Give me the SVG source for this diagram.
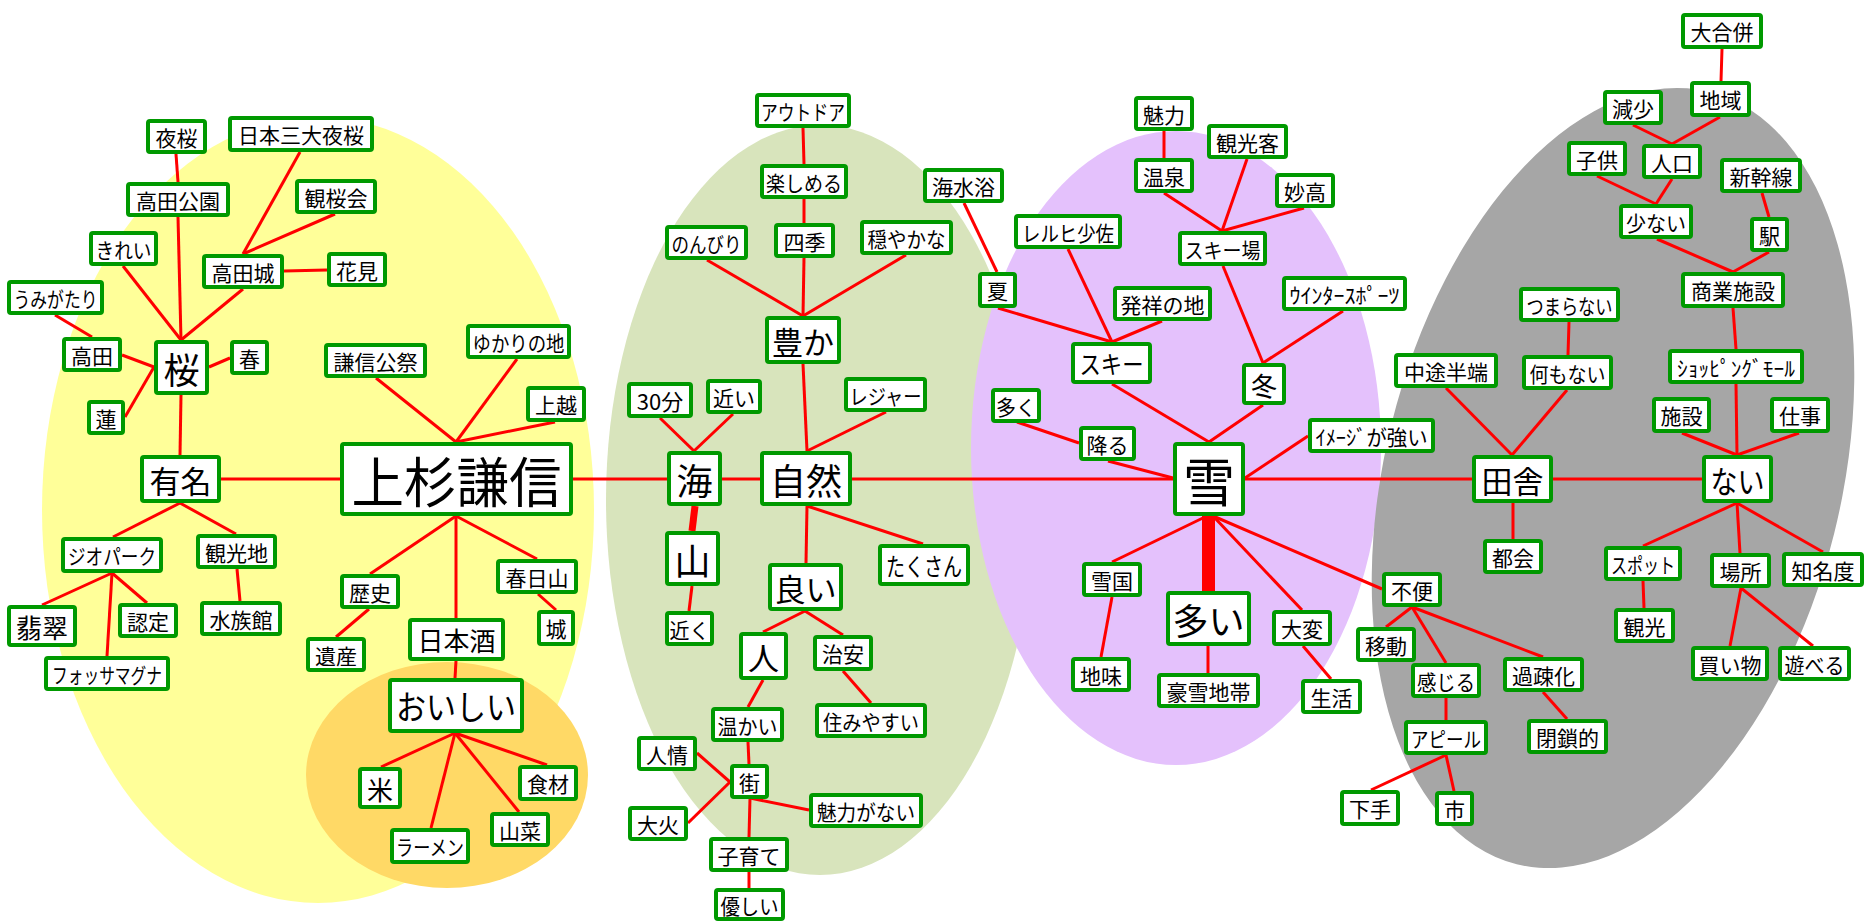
<svg xmlns="http://www.w3.org/2000/svg" width="1874" height="923" viewBox="0 0 1874 923">
<style>
.n rect{fill:#fff;stroke:#009900;stroke-width:4}
.n text{font-family:"Noto Sans CJK JP","Noto Sans",sans-serif;fill:#000;text-anchor:middle;dominant-baseline:central;font-size:21px}
.c line{stroke:#ff0000;stroke-width:3}
.b36{font-size:36px!important}.b31{font-size:31px!important}.b26{font-size:26px!important}
</style>
<rect width="1874" height="923" fill="#fff"/>
<g id="areas">
<ellipse cx="318" cy="510" rx="276" ry="393" fill="#FFFF99"/>
<ellipse cx="447" cy="775" rx="141" ry="113" fill="#FFD966"/>
<ellipse cx="820" cy="500" rx="214" ry="375" fill="#D8E4BC"/>
<ellipse cx="1176" cy="448" rx="205" ry="317" fill="#E4C1FC"/>
<ellipse cx="1613" cy="478" rx="228" ry="398" fill="#A6A6A6" transform="rotate(14 1613 478)"/>
</g>
<g id="connectors" class="c">
<line x1="176" y1="154" x2="178" y2="182"/>
<line x1="300" y1="152" x2="243" y2="254"/>
<line x1="335" y1="214" x2="243" y2="254"/>
<line x1="284" y1="271" x2="327" y2="270"/>
<line x1="178" y1="217" x2="181" y2="340"/>
<line x1="123" y1="266" x2="181" y2="340"/>
<line x1="243" y1="289" x2="181" y2="340"/>
<line x1="55" y1="315" x2="92" y2="337"/>
<line x1="122" y1="355" x2="154" y2="367"/>
<line x1="125" y1="417" x2="154" y2="367"/>
<line x1="209" y1="367" x2="230" y2="358"/>
<line x1="181" y1="395" x2="180" y2="455"/>
<line x1="221" y1="479" x2="340" y2="479"/>
<line x1="376" y1="378" x2="456" y2="442"/>
<line x1="517" y1="359" x2="456" y2="442"/>
<line x1="555" y1="422" x2="456" y2="442"/>
<line x1="180" y1="503" x2="113" y2="537"/>
<line x1="180" y1="503" x2="236" y2="534"/>
<line x1="112" y1="573" x2="42" y2="605"/>
<line x1="112" y1="573" x2="147" y2="603"/>
<line x1="112" y1="573" x2="107" y2="656"/>
<line x1="237" y1="569" x2="240" y2="601"/>
<line x1="456" y1="516" x2="370" y2="574"/>
<line x1="456" y1="516" x2="456" y2="618"/>
<line x1="456" y1="516" x2="537" y2="559"/>
<line x1="369" y1="609" x2="336" y2="637"/>
<line x1="538" y1="594" x2="556" y2="610"/>
<line x1="456" y1="661" x2="455" y2="678"/>
<line x1="455" y1="733" x2="381" y2="767"/>
<line x1="455" y1="733" x2="431" y2="828"/>
<line x1="455" y1="733" x2="519" y2="812"/>
<line x1="455" y1="733" x2="547" y2="765"/>
<line x1="573" y1="479" x2="667" y2="479"/>
<line x1="722" y1="479" x2="760" y2="479"/>
<line x1="660" y1="418" x2="694" y2="451"/>
<line x1="733" y1="414" x2="694" y2="451"/>
<line x1="695" y1="506" x2="692" y2="531" style="stroke-width:7"/>
<line x1="692" y1="586" x2="689" y2="611"/>
<line x1="807" y1="451" x2="803" y2="364"/>
<line x1="886" y1="412" x2="807" y2="451"/>
<line x1="803" y1="316" x2="707" y2="260"/>
<line x1="803" y1="316" x2="804" y2="258"/>
<line x1="803" y1="316" x2="906" y2="255"/>
<line x1="804" y1="223" x2="804" y2="199"/>
<line x1="804" y1="164" x2="803" y2="128"/>
<line x1="964" y1="203" x2="997" y2="272"/>
<line x1="998" y1="308" x2="1112" y2="342"/>
<line x1="852" y1="479" x2="1173" y2="479"/>
<line x1="807" y1="506" x2="806" y2="563"/>
<line x1="807" y1="506" x2="923" y2="544"/>
<line x1="805" y1="611" x2="763" y2="632"/>
<line x1="805" y1="611" x2="843" y2="635"/>
<line x1="763" y1="680" x2="748" y2="707"/>
<line x1="843" y1="671" x2="871" y2="703"/>
<line x1="748" y1="742" x2="749" y2="764"/>
<line x1="697" y1="753" x2="730" y2="782"/>
<line x1="688" y1="823" x2="730" y2="782"/>
<line x1="750" y1="798" x2="809" y2="810"/>
<line x1="750" y1="798" x2="749" y2="837"/>
<line x1="749" y1="872" x2="749" y2="888"/>
<line x1="1164" y1="131" x2="1164" y2="158"/>
<line x1="1164" y1="193" x2="1222" y2="231"/>
<line x1="1247" y1="159" x2="1222" y2="231"/>
<line x1="1304" y1="208" x2="1222" y2="231"/>
<line x1="1068" y1="249" x2="1112" y2="342"/>
<line x1="1162" y1="321" x2="1112" y2="342"/>
<line x1="1223" y1="266" x2="1263" y2="363"/>
<line x1="1343" y1="311" x2="1263" y2="363"/>
<line x1="1112" y1="384" x2="1209" y2="442"/>
<line x1="1263" y1="405" x2="1209" y2="442"/>
<line x1="1017" y1="422" x2="1079" y2="443"/>
<line x1="1108" y1="461" x2="1173" y2="478"/>
<line x1="1308" y1="436" x2="1245" y2="478"/>
<line x1="1245" y1="479" x2="1472" y2="479"/>
<line x1="1207" y1="516" x2="1112" y2="562"/>
<line x1="1208.5" y1="516" x2="1208.5" y2="591" style="stroke-width:13"/>
<line x1="1213" y1="516" x2="1302" y2="610"/>
<line x1="1213" y1="516" x2="1382" y2="589"/>
<line x1="1112" y1="597" x2="1101" y2="657"/>
<line x1="1208" y1="646" x2="1208" y2="673"/>
<line x1="1303" y1="646" x2="1331" y2="679"/>
<line x1="1722" y1="49" x2="1721" y2="81"/>
<line x1="1720" y1="117" x2="1672" y2="144"/>
<line x1="1633" y1="125" x2="1672" y2="144"/>
<line x1="1672" y1="179" x2="1656" y2="204"/>
<line x1="1597" y1="176" x2="1656" y2="204"/>
<line x1="1762" y1="193" x2="1769" y2="217"/>
<line x1="1657" y1="239" x2="1733" y2="272"/>
<line x1="1769" y1="252" x2="1733" y2="272"/>
<line x1="1733" y1="308" x2="1736" y2="349"/>
<line x1="1736" y1="384" x2="1737" y2="455"/>
<line x1="1682" y1="433" x2="1737" y2="455"/>
<line x1="1799" y1="433" x2="1737" y2="455"/>
<line x1="1569" y1="322" x2="1568" y2="355"/>
<line x1="1446" y1="388" x2="1512" y2="455"/>
<line x1="1567" y1="390" x2="1512" y2="455"/>
<line x1="1553" y1="479" x2="1702" y2="479"/>
<line x1="1513" y1="503" x2="1513" y2="539"/>
<line x1="1737" y1="503" x2="1643" y2="546"/>
<line x1="1737" y1="503" x2="1740" y2="553"/>
<line x1="1737" y1="503" x2="1823" y2="552"/>
<line x1="1643" y1="581" x2="1644" y2="608"/>
<line x1="1741" y1="588" x2="1730" y2="646"/>
<line x1="1741" y1="588" x2="1813" y2="646"/>
<line x1="1412" y1="607" x2="1386" y2="627"/>
<line x1="1412" y1="607" x2="1446" y2="663"/>
<line x1="1412" y1="607" x2="1543" y2="657"/>
<line x1="1446" y1="698" x2="1446" y2="720"/>
<line x1="1543" y1="692" x2="1567" y2="719"/>
<line x1="1446" y1="755" x2="1371" y2="790"/>
<line x1="1446" y1="755" x2="1454" y2="791"/>
</g>
<g id="n1" class="n"><rect x="148" y="121" width="57" height="31" rx="2"/><text x="176.5" y="136.5">夜桜</text></g>
<g id="n2" class="n"><rect x="230" y="118" width="142" height="32" rx="2"/><text x="301" y="134">日本三大夜桜</text></g>
<g id="n3" class="n"><rect x="128" y="184" width="100" height="31" rx="2"/><text x="178" y="199.5">高田公園</text></g>
<g id="n4" class="n"><rect x="297" y="181" width="78" height="31" rx="2"/><text x="336" y="196.5">観桜会</text></g>
<g id="n5" class="n"><rect x="91" y="233" width="65" height="31" rx="2"/><text x="123.5" y="248.5" textLength="56" lengthAdjust="spacingAndGlyphs">きれい</text></g>
<g id="n6" class="n"><rect x="204" y="256" width="78" height="31" rx="2"/><text x="243" y="271.5">高田城</text></g>
<g id="n7" class="n"><rect x="329" y="254" width="56" height="31" rx="2"/><text x="357" y="269.5">花見</text></g>
<g id="n8" class="n"><rect x="9" y="282" width="93" height="31" rx="2"/><text x="55.5" y="297.5" textLength="84" lengthAdjust="spacingAndGlyphs">うみがたり</text></g>
<g id="n9" class="n"><rect x="64" y="339" width="56" height="31" rx="2"/><text x="92" y="354.5">高田</text></g>
<g id="n10" class="n"><rect x="156" y="342" width="51" height="51" rx="2"/><text x="181.5" y="367.5" class="b36">桜</text></g>
<g id="n11" class="n"><rect x="232" y="342" width="35" height="31" rx="2"/><text x="249.5" y="357.5">春</text></g>
<g id="n12" class="n"><rect x="89" y="402" width="34" height="31" rx="2"/><text x="106" y="417.5">蓮</text></g>
<g id="n13" class="n"><rect x="326" y="345" width="99" height="31" rx="2"/><text x="375.5" y="360.5">謙信公祭</text></g>
<g id="n14" class="n"><rect x="468" y="326" width="101" height="31" rx="2"/><text x="518.5" y="341.5" textLength="92" lengthAdjust="spacingAndGlyphs">ゆかりの地</text></g>
<g id="n15" class="n"><rect x="528" y="388" width="56" height="32" rx="2"/><text x="556" y="404">上越</text></g>
<g id="n16" class="n"><rect x="142" y="457" width="77" height="44" rx="2"/><text x="180.5" y="479" class="b31">有名</text></g>
<g id="n17" class="n"><rect x="342" y="444" width="229" height="70" rx="2"/><text x="456.5" y="479" style="font-size:54px" textLength="210" lengthAdjust="spacingAndGlyphs">上杉謙信</text></g>
<g id="n18" class="n"><rect x="63" y="539" width="98" height="32" rx="2"/><text x="112" y="555" textLength="88" lengthAdjust="spacingAndGlyphs">ジオパーク</text></g>
<g id="n19" class="n"><rect x="198" y="536" width="77" height="31" rx="2"/><text x="236.5" y="551.5">観光地</text></g>
<g id="n20" class="n"><rect x="9" y="607" width="66" height="38" rx="2"/><text x="42" y="626" class="b26">翡翠</text></g>
<g id="n21" class="n"><rect x="120" y="605" width="56" height="31" rx="2"/><text x="148" y="620.5">認定</text></g>
<g id="n22" class="n"><rect x="202" y="603" width="78" height="31" rx="2"/><text x="241" y="618.5">水族館</text></g>
<g id="n23" class="n"><rect x="46" y="658" width="122" height="31" rx="2"/><text x="107" y="673.5" textLength="110" lengthAdjust="spacingAndGlyphs">フォッサマグナ</text></g>
<g id="n24" class="n"><rect x="342" y="576" width="56" height="31" rx="2"/><text x="370" y="591.5">歴史</text></g>
<g id="n25" class="n"><rect x="498" y="561" width="78" height="31" rx="2"/><text x="537" y="576.5">春日山</text></g>
<g id="n26" class="n"><rect x="539" y="612" width="34" height="32" rx="2"/><text x="556" y="628">城</text></g>
<g id="n27" class="n"><rect x="308" y="639" width="56" height="31" rx="2"/><text x="336" y="654.5">遺産</text></g>
<g id="n28" class="n"><rect x="410" y="620" width="93" height="39" rx="2"/><text x="456.5" y="639.5" class="b26">日本酒</text></g>
<g id="n29" class="n"><rect x="390" y="680" width="132" height="51" rx="2"/><text x="456" y="705.5" style="font-size:34px" textLength="120" lengthAdjust="spacingAndGlyphs">おいしい</text></g>
<g id="n30" class="n"><rect x="360" y="769" width="40" height="38" rx="2"/><text x="380" y="788" class="b26">米</text></g>
<g id="n31" class="n"><rect x="520" y="767" width="56" height="32" rx="2"/><text x="548" y="783">食材</text></g>
<g id="n32" class="n"><rect x="492" y="814" width="56" height="31" rx="2"/><text x="520" y="829.5">山菜</text></g>
<g id="n33" class="n"><rect x="392" y="830" width="76" height="32" rx="2"/><text x="430" y="846" textLength="68" lengthAdjust="spacingAndGlyphs">ラーメン</text></g>
<g id="n34" class="n"><rect x="757" y="95" width="92" height="31" rx="2"/><text x="803" y="110.5" textLength="84" lengthAdjust="spacingAndGlyphs">アウトドア</text></g>
<g id="n35" class="n"><rect x="762" y="166" width="84" height="31" rx="2"/><text x="804" y="181.5" textLength="76" lengthAdjust="spacingAndGlyphs">楽しめる</text></g>
<g id="n36" class="n"><rect x="925" y="170" width="77" height="31" rx="2"/><text x="963.5" y="185.5">海水浴</text></g>
<g id="n37" class="n"><rect x="667" y="227" width="79" height="31" rx="2"/><text x="706.5" y="242.5" textLength="70" lengthAdjust="spacingAndGlyphs">のんびり</text></g>
<g id="n38" class="n"><rect x="776" y="225" width="57" height="31" rx="2"/><text x="804.5" y="240.5">四季</text></g>
<g id="n39" class="n"><rect x="862" y="222" width="89" height="31" rx="2"/><text x="906.5" y="237.5" textLength="78" lengthAdjust="spacingAndGlyphs">穏やかな</text></g>
<g id="n40" class="n"><rect x="980" y="274" width="35" height="32" rx="2"/><text x="997.5" y="290">夏</text></g>
<g id="n41" class="n"><rect x="767" y="318" width="72" height="44" rx="2"/><text x="803" y="340" class="b31">豊か</text></g>
<g id="n42" class="n"><rect x="629" y="384" width="62" height="32" rx="2"/><text x="660" y="400" style="font-size:22px">30分</text></g>
<g id="n43" class="n"><rect x="708" y="381" width="52" height="31" rx="2"/><text x="734" y="396.5">近い</text></g>
<g id="n44" class="n"><rect x="846" y="379" width="79" height="31" rx="2"/><text x="885.5" y="394.5" textLength="72" lengthAdjust="spacingAndGlyphs">レジャー</text></g>
<g id="n45" class="n"><rect x="669" y="453" width="51" height="51" rx="2"/><text x="694.5" y="478.5" class="b36">海</text></g>
<g id="n46" class="n"><rect x="762" y="453" width="88" height="51" rx="2"/><text x="806" y="478.5" class="b36">自然</text></g>
<g id="n47" class="n"><rect x="667" y="533" width="51" height="51" rx="2"/><text x="692.5" y="558.5" class="b36">山</text></g>
<g id="n48" class="n"><rect x="770" y="565" width="71" height="44" rx="2"/><text x="805.5" y="587" class="b31">良い</text></g>
<g id="n49" class="n"><rect x="880" y="546" width="88" height="38" rx="2"/><text x="924" y="565" style="font-size:25px" textLength="76" lengthAdjust="spacingAndGlyphs">たくさん</text></g>
<g id="n50" class="n"><rect x="667" y="613" width="45" height="31" rx="2"/><text x="689.5" y="628.5" textLength="40" lengthAdjust="spacingAndGlyphs">近く</text></g>
<g id="n51" class="n"><rect x="741" y="634" width="45" height="44" rx="2"/><text x="763.5" y="656" class="b31">人</text></g>
<g id="n52" class="n"><rect x="815" y="637" width="56" height="32" rx="2"/><text x="843" y="653">治安</text></g>
<g id="n53" class="n"><rect x="713" y="709" width="69" height="31" rx="2"/><text x="747.5" y="724.5" textLength="60" lengthAdjust="spacingAndGlyphs">温かい</text></g>
<g id="n54" class="n"><rect x="817" y="705" width="108" height="31" rx="2"/><text x="871" y="720.5" textLength="96" lengthAdjust="spacingAndGlyphs">住みやすい</text></g>
<g id="n55" class="n"><rect x="639" y="738" width="56" height="31" rx="2"/><text x="667" y="753.5">人情</text></g>
<g id="n56" class="n"><rect x="732" y="766" width="35" height="31" rx="2"/><text x="749.5" y="781.5">街</text></g>
<g id="n57" class="n"><rect x="811" y="795" width="110" height="31" rx="2"/><text x="866" y="810.5" textLength="98" lengthAdjust="spacingAndGlyphs">魅力がない</text></g>
<g id="n58" class="n"><rect x="630" y="808" width="56" height="31" rx="2"/><text x="658" y="823.5">大火</text></g>
<g id="n59" class="n"><rect x="711" y="839" width="76" height="31" rx="2"/><text x="749" y="854.5">子育て</text></g>
<g id="n60" class="n"><rect x="716" y="890" width="67" height="29" rx="2"/><text x="749.5" y="904.5" textLength="58" lengthAdjust="spacingAndGlyphs">優しい</text></g>
<g id="n61" class="n"><rect x="1136" y="98" width="56" height="31" rx="2"/><text x="1164" y="113.5">魅力</text></g>
<g id="n62" class="n"><rect x="1209" y="126" width="77" height="31" rx="2"/><text x="1247.5" y="141.5">観光客</text></g>
<g id="n63" class="n"><rect x="1136" y="160" width="56" height="31" rx="2"/><text x="1164" y="175.5">温泉</text></g>
<g id="n64" class="n"><rect x="1277" y="175" width="56" height="31" rx="2"/><text x="1305" y="190.5">妙高</text></g>
<g id="n65" class="n"><rect x="1016" y="216" width="104" height="31" rx="2"/><text x="1068" y="231.5" textLength="92" lengthAdjust="spacingAndGlyphs">レルヒ少佐</text></g>
<g id="n66" class="n"><rect x="1180" y="233" width="85" height="31" rx="2"/><text x="1222.5" y="248.5" textLength="76" lengthAdjust="spacingAndGlyphs">スキー場</text></g>
<g id="n67" class="n"><rect x="1115" y="288" width="95" height="31" rx="2"/><text x="1162.5" y="303.5">発祥の地</text></g>
<g id="n68" class="n"><rect x="1284" y="278" width="121" height="31" rx="2"/><text x="1344.5" y="293.5" textLength="110" lengthAdjust="spacingAndGlyphs">ｳｲﾝﾀｰｽﾎﾟｰﾂ</text></g>
<g id="n69" class="n"><rect x="1073" y="344" width="77" height="38" rx="2"/><text x="1111.5" y="363" style="font-size:25px" textLength="64" lengthAdjust="spacingAndGlyphs">スキー</text></g>
<g id="n70" class="n"><rect x="1244" y="365" width="40" height="38" rx="2"/><text x="1264" y="384" class="b26">冬</text></g>
<g id="n71" class="n"><rect x="993" y="390" width="46" height="31" rx="2"/><text x="1016" y="405.5" textLength="40" lengthAdjust="spacingAndGlyphs">多く</text></g>
<g id="n72" class="n"><rect x="1081" y="428" width="53" height="31" rx="2"/><text x="1107.5" y="443.5">降る</text></g>
<g id="n73" class="n"><rect x="1310" y="420" width="123" height="31" rx="2"/><text x="1371.5" y="435.5" textLength="112" lengthAdjust="spacingAndGlyphs">ｲﾒｰｼﾞが強い</text></g>
<g id="n74" class="n"><rect x="1175" y="444" width="68" height="70" rx="2"/><text x="1209" y="479" style="font-size:52px">雪</text></g>
<g id="n75" class="n"><rect x="1084" y="564" width="56" height="31" rx="2"/><text x="1112" y="579.5">雪国</text></g>
<g id="n76" class="n"><rect x="1168" y="593" width="81" height="51" rx="2"/><text x="1208.5" y="618.5" class="b36">多い</text></g>
<g id="n77" class="n"><rect x="1274" y="612" width="56" height="32" rx="2"/><text x="1302" y="628">大変</text></g>
<g id="n78" class="n"><rect x="1073" y="659" width="56" height="31" rx="2"/><text x="1101" y="674.5">地味</text></g>
<g id="n79" class="n"><rect x="1159" y="675" width="99" height="31" rx="2"/><text x="1208.5" y="690.5">豪雪地帯</text></g>
<g id="n80" class="n"><rect x="1303" y="681" width="57" height="31" rx="2"/><text x="1331.5" y="696.5">生活</text></g>
<g id="n81" class="n"><rect x="1683" y="15" width="78" height="32" rx="2"/><text x="1722" y="31">大合併</text></g>
<g id="n82" class="n"><rect x="1692" y="83" width="57" height="32" rx="2"/><text x="1720.5" y="99">地域</text></g>
<g id="n83" class="n"><rect x="1605" y="92" width="56" height="31" rx="2"/><text x="1633" y="107.5">減少</text></g>
<g id="n84" class="n"><rect x="1569" y="143" width="56" height="31" rx="2"/><text x="1597" y="158.5">子供</text></g>
<g id="n85" class="n"><rect x="1644" y="146" width="56" height="31" rx="2"/><text x="1672" y="161.5">人口</text></g>
<g id="n86" class="n"><rect x="1722" y="160" width="78" height="31" rx="2"/><text x="1761" y="175.5">新幹線</text></g>
<g id="n87" class="n"><rect x="1621" y="206" width="70" height="31" rx="2"/><text x="1656" y="221.5" textLength="60" lengthAdjust="spacingAndGlyphs">少ない</text></g>
<g id="n88" class="n"><rect x="1752" y="219" width="35" height="31" rx="2"/><text x="1769.5" y="234.5">駅</text></g>
<g id="n89" class="n"><rect x="1683" y="274" width="100" height="32" rx="2"/><text x="1733" y="290">商業施設</text></g>
<g id="n90" class="n"><rect x="1521" y="289" width="97" height="31" rx="2"/><text x="1569.5" y="304.5" textLength="86" lengthAdjust="spacingAndGlyphs">つまらない</text></g>
<g id="n91" class="n"><rect x="1396" y="355" width="100" height="31" rx="2"/><text x="1446" y="370.5">中途半端</text></g>
<g id="n92" class="n"><rect x="1524" y="357" width="87" height="31" rx="2"/><text x="1567.5" y="372.5" textLength="76" lengthAdjust="spacingAndGlyphs">何もない</text></g>
<g id="n93" class="n"><rect x="1670" y="351" width="132" height="31" rx="2"/><text x="1736" y="366.5" textLength="118" lengthAdjust="spacingAndGlyphs">ｼｮｯﾋﾟﾝｸﾞﾓｰﾙ</text></g>
<g id="n94" class="n"><rect x="1654" y="399" width="55" height="32" rx="2"/><text x="1681.5" y="415">施設</text></g>
<g id="n95" class="n"><rect x="1772" y="399" width="56" height="32" rx="2"/><text x="1800" y="415">仕事</text></g>
<g id="n96" class="n"><rect x="1474" y="457" width="77" height="44" rx="2"/><text x="1512.5" y="479" class="b31">田舎</text></g>
<g id="n97" class="n"><rect x="1704" y="457" width="67" height="44" rx="2"/><text x="1737.5" y="479" class="b31" textLength="54" lengthAdjust="spacingAndGlyphs">ない</text></g>
<g id="n98" class="n"><rect x="1485" y="541" width="56" height="31" rx="2"/><text x="1513" y="556.5">都会</text></g>
<g id="n99" class="n"><rect x="1384" y="574" width="56" height="31" rx="2"/><text x="1412" y="589.5">不便</text></g>
<g id="n100" class="n"><rect x="1606" y="548" width="74" height="31" rx="2"/><text x="1643" y="563.5" textLength="64" lengthAdjust="spacingAndGlyphs">スポット</text></g>
<g id="n101" class="n"><rect x="1712" y="555" width="57" height="31" rx="2"/><text x="1740.5" y="570.5">場所</text></g>
<g id="n102" class="n"><rect x="1784" y="554" width="78" height="31" rx="2"/><text x="1823" y="569.5">知名度</text></g>
<g id="n103" class="n"><rect x="1358" y="629" width="56" height="31" rx="2"/><text x="1386" y="644.5">移動</text></g>
<g id="n104" class="n"><rect x="1413" y="665" width="66" height="31" rx="2"/><text x="1446" y="680.5" textLength="58" lengthAdjust="spacingAndGlyphs">感じる</text></g>
<g id="n105" class="n"><rect x="1505" y="659" width="77" height="31" rx="2"/><text x="1543.5" y="674.5">過疎化</text></g>
<g id="n106" class="n"><rect x="1616" y="610" width="57" height="31" rx="2"/><text x="1644.5" y="625.5">観光</text></g>
<g id="n107" class="n"><rect x="1693" y="648" width="74" height="31" rx="2"/><text x="1730" y="663.5">買い物</text></g>
<g id="n108" class="n"><rect x="1780" y="648" width="69" height="31" rx="2"/><text x="1814.5" y="663.5" textLength="60" lengthAdjust="spacingAndGlyphs">遊べる</text></g>
<g id="n109" class="n"><rect x="1406" y="722" width="80" height="31" rx="2"/><text x="1446" y="737.5" textLength="70" lengthAdjust="spacingAndGlyphs">アピール</text></g>
<g id="n110" class="n"><rect x="1529" y="721" width="77" height="31" rx="2"/><text x="1567.5" y="736.5">閉鎖的</text></g>
<g id="n111" class="n"><rect x="1342" y="792" width="56" height="32" rx="2"/><text x="1370" y="808">下手</text></g>
<g id="n112" class="n"><rect x="1437" y="793" width="35" height="31" rx="2"/><text x="1454.5" y="808.5">市</text></g>
</svg>
